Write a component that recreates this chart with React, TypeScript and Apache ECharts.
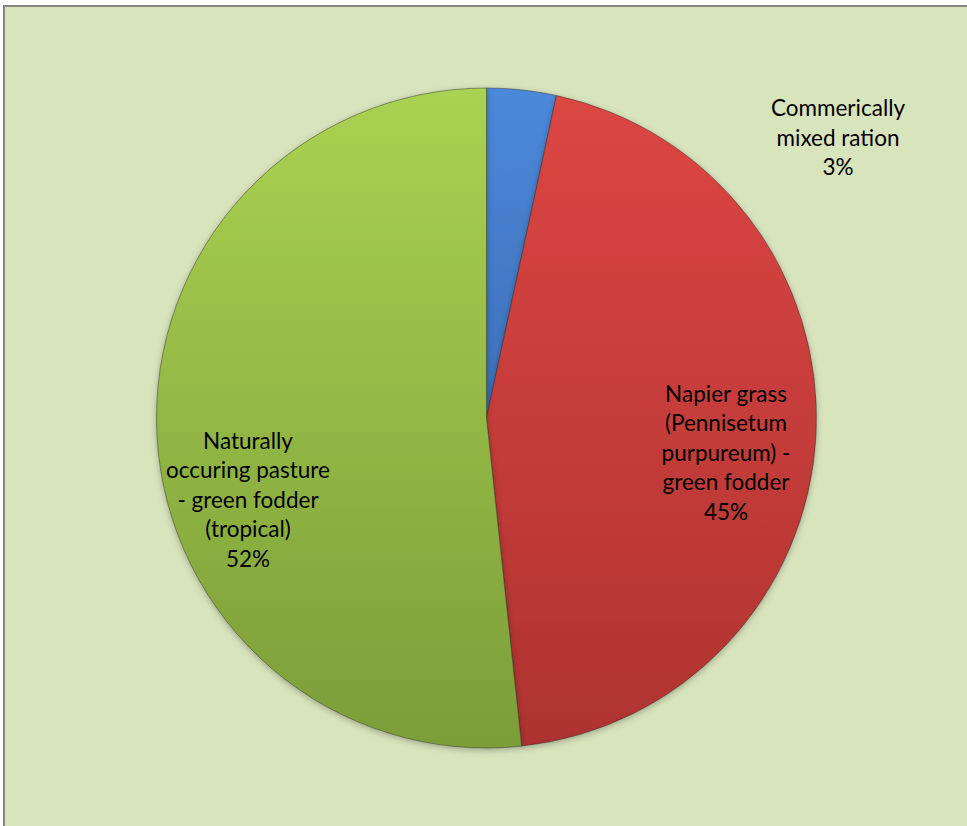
import React, { useEffect, useRef } from "react";
import * as echarts from "echarts";

const categories = [
  "Commerically\nmixed ration",
  "Napier grass\n(Pennisetum\npurpureum) -\ngreen fodder",
  "Naturally\noccuring pasture\n- green fodder\n(tropical)",
];
const values = [3.4, 44.9, 51.7];
const topColors = ["#4C89DA", "#DC4643", "#AAD252"];
const bottomColors = ["#3C6FB9", "#AE3330", "#7C9D38"];
// label anchor positions (px) for each slice label
const labelPos: [number, number][] = [
  [838, 137],
  [726, 452],
  [248, 499],
];

export default function App() {
  const ref = useRef<HTMLDivElement>(null);
  useEffect(() => {
    if (!ref.current) return;
    const chart = echarts.init(ref.current, null, { renderer: "svg" });
    const total = values.reduce((a, b) => a + b, 0);
    chart.setOption({
      animation: false,
      graphic: [
        {
          type: "rect",
          z: -10,
          shape: { x: 4, y: 6, width: 1000, height: 1000 },
          style: { fill: "#D8E4BC", stroke: "#858585", lineWidth: 2 },
        },
      ],
      series: [
        {
          type: "pie",
          center: [486.5, 418],
          radius: 330,
          startAngle: 90,
          clockwise: true,
          avoidLabelOverlap: false,
          label: {
            show: true,
            color: "#000",
            fontFamily: "Lato, 'Open Sans', sans-serif",
            fontSize: 22.5,
            lineHeight: 29.5,
            align: "center",
            formatter: (p: any) =>
              p.name + "\n" + Math.round((p.value / total) * 100) + "%",
          },
          labelLine: { show: false },
          labelLayout: (params: any) => {
            const pos = labelPos[params.dataIndex];
            return {
              x: pos[0],
              y: pos[1],
              align: "center",
              verticalAlign: "middle",
            };
          },
          itemStyle: {
            borderColor: "rgba(40,40,40,0.45)",
            borderWidth: 1,
            shadowBlur: 6,
            shadowColor: "rgba(0,0,0,0.28)",
            shadowOffsetY: 2,
          },
          emphasis: { disabled: true },
          data: categories.map((name, i) => ({
            name,
            value: values[i],
            itemStyle: {
              color: {
                type: "linear",
                x: 0,
                y: 0,
                x2: 0,
                y2: 1,
                colorStops: [
                  { offset: 0, color: topColors[i] },
                  { offset: 1, color: bottomColors[i] },
                ],
              },
            },
          })),
        },
      ],
    });
    return () => chart.dispose();
  }, []);
  return (
    <div
      ref={ref}
      style={{ position: "absolute", left: 0, top: 0, width: 967, height: 826 }}
    />
  );
}
